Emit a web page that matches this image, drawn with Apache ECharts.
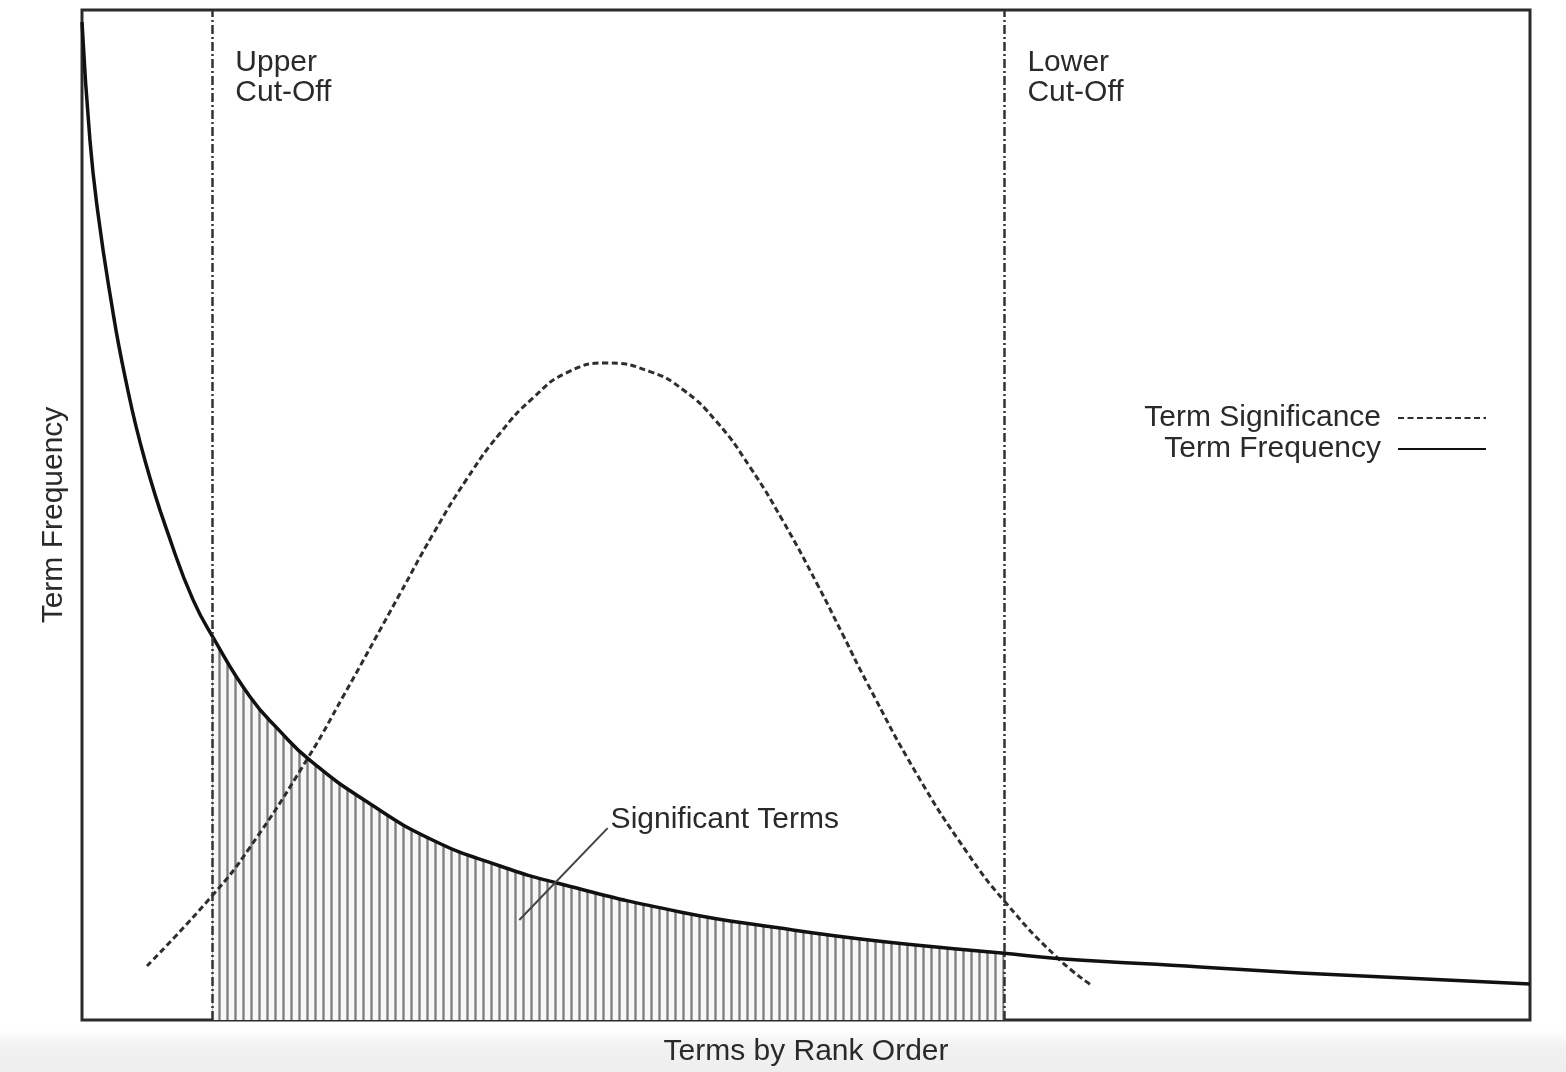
<!DOCTYPE html>
<html>
<head>
<meta charset="utf-8">
<title>Term Frequency vs Term Significance</title>
<script src="https://cdn.jsdelivr.net/npm/echarts@6/dist/echarts.min.js"></script>
<style>
  html, body { margin: 0; padding: 0; }
  body {
    width: 1566px; height: 1072px;
    background: linear-gradient(to bottom, #fff 0, #fff 1030px, #f2f2f2 1045px, #eeeeee 100%);
  }
  #chart { width: 1566px; height: 1072px; }
</style>
</head>
<body>
<div id="chart"></div>
<script>
// rank position (0-100) and frequency
const freqX = [0, 0.55, 1.1, 1.93, 2.97, 4.35, 6.22, 7.67, 9.0, 11.6, 13.67, 15.75, 19.68, 24.24, 28.87, 32.8, 41.3, 48.2, 55.11, 63.7, 67.33, 77.21, 84.12, 100];
const freqY = [98.8, 87.1, 79.9, 71.9, 63.7, 55.4, 47.0, 41.6, 38.0, 32.0, 28.6, 25.7, 21.6, 17.8, 15.25, 13.56, 10.7, 9.1, 7.8, 6.6, 6.1, 5.25, 4.65, 3.56];

// term significance (bell shaped)
const sigX = [4.49, 9.05, 11.6, 15.54, 18.02, 21.96, 24.24, 26.59, 28.87, 31.15, 33.49, 36.26, 39.23, 41.51, 43.85, 46.13, 48.41, 50.76, 52.56, 54.21, 57.67, 61.12, 63.74, 67.33, 69.75];
const sigY = [5.35, 12.4, 17.1, 25.8, 32.0, 42.2, 48.1, 53.6, 58.1, 61.6, 64.1, 65.05, 64.2, 62.4, 59.2, 54.75, 49.4, 43.2, 38.1, 33.4, 24.3, 16.6, 11.7, 6.2, 3.4];

// cut-off positions
const cutoffs = [9.0, 63.7];
const cutoffLabels = ["Upper\nCut-Off", "Lower\nCut-Off"];

// pointer for the "Significant Terms" note
const noteX = [30.2, 36.3];
const noteY = [9.9, 19.0];

const freqData = freqX.map((x, i) => [x, freqY[i]]);
const sigData = sigX.map((x, i) => [x, sigY[i]]);
const hatchData = freqData.filter(p => p[0] >= cutoffs[0] && p[0] <= cutoffs[1]);

// vertical hatching pattern
const hatch = document.createElement("canvas");
hatch.width = 8;
hatch.height = 8;
const hctx = hatch.getContext("2d");
hctx.fillStyle = "#f7f7f7";
hctx.fillRect(0, 0, 8, 8);
hctx.fillStyle = "#a6a6a6";
hctx.fillRect(2, 0, 3, 8);
hctx.fillStyle = "#7e7e7e";
hctx.fillRect(3, 0, 1, 8);

const textColor = "#2a2a2a";
const font = "Liberation Sans, Arial, Helvetica, sans-serif";
const fs = 30;

const legendBase = {
  right: 74,
  align: "right",
  itemWidth: 88, itemHeight: 14, itemGap: 0,
  itemStyle: { opacity: 0 },
  textStyle: { fontSize: fs, color: textColor, fontFamily: font, padding: [0, 12, 0, 0] },
};

const chart = echarts.init(document.getElementById("chart"));
const option = {
  animation: false,
  textStyle: { fontFamily: font, color: textColor },
  grid: {
    left: 82, right: 36, top: 10, bottom: 52,
    show: true,
    borderColor: "#2b2b2b",
    borderWidth: 3,
    backgroundColor: "#ffffff",
  },
  legend: [
    Object.assign({ data: ["Term Significance"], top: 398 }, legendBase),
    Object.assign({ data: ["Term Frequency"], top: 429 }, legendBase),
  ],
  xAxis: {
    type: "value",
    min: 0, max: 100,
    name: "Terms by Rank Order",
    nameLocation: "middle",
    nameGap: 17,
    nameTextStyle: { fontSize: fs, color: textColor, fontFamily: font },
    axisLine: { show: false },
    axisTick: { show: false },
    axisLabel: { show: false },
    splitLine: { show: false },
  },
  yAxis: {
    type: "value",
    min: 0, max: 100,
    name: "Term Frequency",
    nameLocation: "middle",
    nameGap: 13,
    nameTextStyle: { fontSize: fs, color: textColor, fontFamily: font },
    axisLine: { show: false },
    axisTick: { show: false },
    axisLabel: { show: false },
    splitLine: { show: false },
  },
  series: [
    {
      // hatched band between the cut-offs
      name: "hatch",
      type: "line",
      data: hatchData,
      smooth: 0.5,
      symbol: "none",
      lineStyle: { width: 0 },
      areaStyle: { color: { image: hatch, repeat: "repeat" }, opacity: 1 },
      z: 1,
      silent: true,
      markLine: {
        symbol: "none",
        silent: true,
        label: { show: false },
        lineStyle: { color: "#333333", width: 2.5, type: [9, 3, 2, 3] },
        data: cutoffs.map(c => ({ xAxis: c })),
      },
    },
    {
      name: "Term Significance",
      type: "line",
      data: sigData,
      smooth: 0.5,
      symbol: "none",
      lineStyle: { color: "#2e2e2e", width: 3, type: [6, 3.5] },
      itemStyle: { color: "#2e2e2e" },
      z: 3,
    },
    {
      name: "Term Frequency",
      type: "line",
      data: freqData,
      smooth: 0.5,
      symbol: "none",
      lineStyle: { color: "#111111", width: 3.5 },
      itemStyle: { color: "#111111" },
      z: 4,
    },
    {
      name: "cutLabels",
      type: "scatter",
      data: cutoffs.map((c, i) => ({ value: [c, 93.3], label: { formatter: cutoffLabels[i] } })),
      symbolSize: 0,
      silent: true,
      itemStyle: { opacity: 1 },
      label: {
        show: true,
        position: "right",
        distance: 23,
        fontSize: fs,
        lineHeight: 30,
        color: textColor,
        fontFamily: font,
      },
      z: 5,
    },
    {
      name: "note",
      type: "line",
      data: noteX.map((x, i) => [x, noteY[i]]),
      symbol: "none",
      lineStyle: { color: "#444444", width: 2 },
      endLabel: {
        show: true,
        formatter: "Significant Terms",
        distance: 3,
        offset: [0, -8],
        fontSize: fs,
        color: textColor,
        fontFamily: font,
      },
      z: 5,
      silent: true,
    },
  ],
};
chart.setOption(option);
window.addEventListener("resize", () => chart.resize());
</script>
</body>
</html>
